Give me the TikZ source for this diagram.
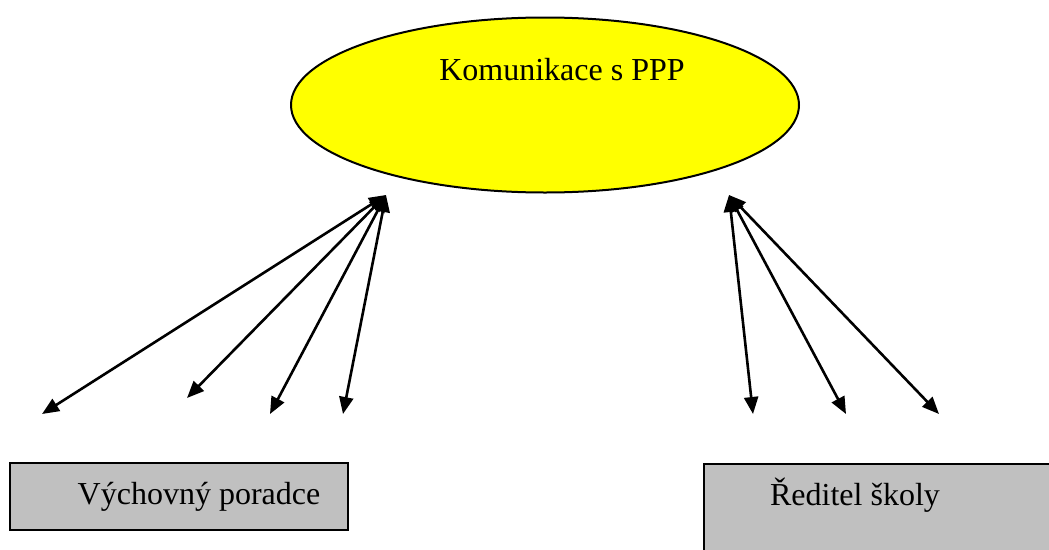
\documentclass[tikz,border=0pt]{standalone}
\usepackage{fontspec}
\setmainfont{Liberation Serif}
\usetikzlibrary{arrows.meta,shapes.geometric}
\definecolor{boxgray}{HTML}{C0C0C0}
\definecolor{ovalyellow}{HTML}{FFFF00}
\begin{document}
\begin{tikzpicture}[x=1pt,y=-1pt,
  label/.style={inner sep=0pt,font=\fontsize{32}{38}\selectfont},
  link/.style={line width=2.6pt,
    {Triangle[length=17pt,width=14pt]}-{Triangle[length=17pt,width=14pt]}}]
\useasboundingbox (0,0) rectangle (1049,549);
\clip (0,0) rectangle (1049,549);
% central oval
\node[draw,line width=2pt,fill=ovalyellow,ellipse,minimum width=508pt,minimum height=175pt,inner sep=0pt] (ppp) at (545,105) {};
\node[label] (ppptext) at (562,70) {Komunikace s PPP};
% boxes
\node[draw,line width=2pt,fill=boxgray,rectangle,minimum width=338pt,minimum height=67pt,inner sep=0pt] (vp) at (179,496) {};
\node[label] (vptext) at (199,497) {Výchovný poradce};
\node[draw,line width=2pt,fill=boxgray,rectangle,minimum width=360pt,minimum height=100pt,inner sep=0pt,anchor=north west] (rs) at (703,463) {};
\node[label] (rstext) at (855,495) {Ředitel školy};
% arrow endpoints
\coordinate (la) at (386,195);
\coordinate (ra) at (729,195);
\coordinate (l1) at (42,414);
\coordinate (l2) at (187,398);
\coordinate (l3) at (270,414);
\coordinate (l4) at (343,414);
\coordinate (r1) at (753,414);
\coordinate (r2) at (846,414);
\coordinate (r3) at (939,414);
% two-way arrows
\foreach \e in {l1,l2,l3,l4} \draw[link] (la) -- (\e);
\foreach \e in {r1,r2,r3} \draw[link] (ra) -- (\e);
\end{tikzpicture}
\end{document}
